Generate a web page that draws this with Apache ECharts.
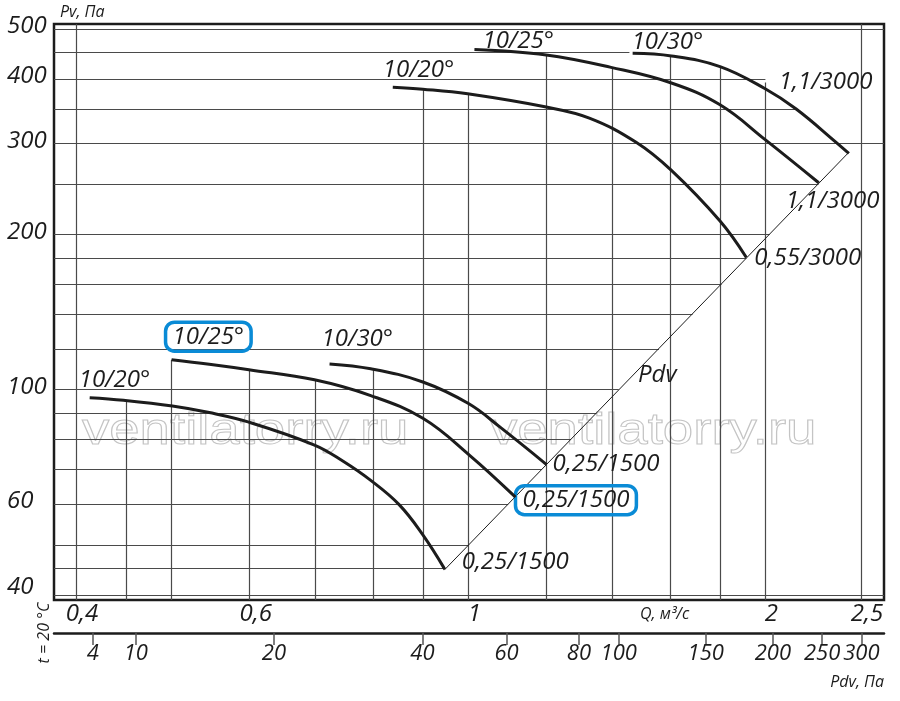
<!DOCTYPE html>
<html><head><meta charset="utf-8">
<script src="https://cdn.jsdelivr.net/npm/echarts@6/dist/echarts.min.js"></script>
<style>html,body{margin:0;padding:0;background:#fff}#c{width:900px;height:701px}</style>
</head><body><div id="c"></div>
<script>
// ---- axis bounds (Q in m3/s, Pv in Pa) ----
const Q_MIN = 0.38, Q_MAX = 2.638, P_MIN = 39.12, P_MAX = 511.3;

// ---- tick labels ----
const qTicks = [0.4, 0.6, 1, 2, 2.5];
const pvTicks = [40, 60, 100, 200, 300, 400, 500];
const pdvTickLabels = ['4', '10', '20', '40', '60', '80', '100', '150', '200', '250', '300'];
const pdvTickQ = [0.416, 0.46, 0.635, 0.898, 1.093, 1.294, 1.42, 1.74, 2.035, 2.283, 2.502];

// ---- curve names ----
const bladeAngles = ['10/20°', '10/25°', '10/30°'];
const lowMotors = ['0,25/1500', '0,25/1500', '0,25/1500'];
const highMotors = ['0,55/3000', '1,1/3000', '1,1/3000'];

// ---- curves [Q, Pv] ----
const low1020 = [[0.413,96.5],[0.447,95.4],[0.501,93.0],[0.546,90.3],[0.599,86.5],[0.698,78.1],[0.745,72.8],[0.796,66.7],[0.851,59.8],[0.899,52.3],[0.946,44.9]];
const low1025 = [[0.500,114.3],[0.546,112.0],[0.599,109.3],[0.698,104.5],[0.796,97.4],[0.899,88.0],[1.002,74.7],[1.116,61.9]];
const low1030 = [[0.723,112.2],[0.796,109.8],[0.899,103.5],[1.0,94.0],[1.075,84.8],[1.20,71.6]];
const high1020 = [[0.838,385.7],[0.899,382.3],[0.998,374.4],[1.199,352.9],[1.326,336],[1.479,301.6],[1.606,266],[1.799,212.2],[1.913,180.4]];
const high1025 = [[1.014,456.3],[1.199,445.3],[1.395,421.3],[1.606,393],[1.799,356.5],[1.999,305.2],[2.265,251.8]];
const high1030 = [[1.467,448.7],[1.606,443.4],[1.799,422.8],[1.999,383],[2.149,349.9],[2.359,301.6],[2.430,287]];
const pdvLine = [[0.945,44.7],[2.430,288.4]];

// ---- grid lines: horizontal [Pv, Q end], vertical [Q, Pv top] ----
const hGrid = [[500,Q_MAX],[450,1.456],[400,2.0],[350,2.149],[300,Q_MAX],[250,2.264],[200,2.02],[180,1.913],[160,1.805],[140,1.687],[120,1.56],[100,1.42],[90,1.348],[80,1.27],[70,1.187],[60,1.097],[50,1.0],[45,0.948],[40,Q_MAX]];
const vGrid = [[0.4,P_MAX],[0.45,95.3],[0.5,114.3],[0.6,109.3],[0.7,104.3],[0.8,109.7],[0.9,382],[1.0,374],[1.2,445],[1.4,421],[1.6,443],[1.8,423],[2.0,394],[2.5,P_MAX]];

const lg = Math.log10;
const FONT = '"Open Sans", "Noto Sans", sans-serif';
const INK = '#1c1c1c';
const nearest = (arr, v) => { let bi = 0, bd = Infinity; arr.forEach((a, i) => { const d = Math.abs(lg(a) - v); if (d < bd) { bd = d; bi = i; } }); return bi; };

const baseLabel = { show: true, position: 'inside', align: 'left', verticalAlign: 'middle', color: INK, fontFamily: FONT, fontStyle: 'italic', fontSize: 24 };
const boxStyle = { borderColor: '#0a8bd6', borderWidth: 3.5, borderRadius: 9, padding: [3, 7, 2, 7] };

function curve(data, sText, eText, sOff, eOff, sBox, eBox) {
  return {
    type: 'line', xAxisIndex: 0, yAxisIndex: 0, data: data, showSymbol: false, symbol: 'none',
    smooth: 0.4, silent: true, z: 5,
    lineStyle: { color: INK, width: 3 },
    markPoint: {
      symbol: 'circle', symbolSize: 0, silent: true, animation: false,
      data: [
        { name: sText, coord: data[0], label: Object.assign({}, baseLabel, { formatter: sText, offset: sOff }, sBox ? boxStyle : {}) },
        { name: eText, coord: data[data.length - 1], label: Object.assign({}, baseLabel, { formatter: eText, offset: eOff }, eBox ? boxStyle : {}) }
      ]
    }
  };
}

const hidden = { axisLine: { show: false }, axisTick: { show: false }, axisLabel: { show: false }, splitLine: { show: false } };
const labelFont = { color: INK, fontFamily: FONT, fontStyle: 'italic', fontSize: 24, hideOverlap: false };
const smallFont = 'italic 16px ' + FONT;

const chart = echarts.init(document.getElementById('c'), null, { renderer: 'canvas', width: 900, height: 701 });
chart.setOption({
  animation: false,
  backgroundColor: '#fff',
  grid: { left: 54, right: 16, top: 24, bottom: 101, show: true, borderColor: INK, borderWidth: 2.5, backgroundColor: 'transparent', containLabel: false, outerBoundsMode: 'none' },
  xAxis: [
    Object.assign({ type: 'log', logBase: 10, min: Q_MIN, max: Q_MAX, position: 'bottom' }, hidden),
    { type: 'value', min: lg(Q_MIN), max: lg(Q_MAX), position: 'bottom',
      axisLine: { show: false, onZero: false }, axisTick: { show: false }, splitLine: { show: false },
      axisLabel: Object.assign({}, labelFont, { customValues: qTicks.map(lg), formatter: v => String(qTicks[nearest(qTicks, v)]).replace('.', ','), align: 'center', padding: [0, 0, 0, 12], margin: 2 }) },
    { type: 'value', min: lg(Q_MIN), max: lg(Q_MAX), position: 'bottom', offset: 33,
      axisLine: { show: true, onZero: false, lineStyle: { color: INK, width: 2.5 } },
      axisTick: { show: true, customValues: pdvTickQ.map(lg), length: 12, lineStyle: { color: '#555', width: 1.5 } },
      splitLine: { show: false },
      axisLabel: Object.assign({}, labelFont, { customValues: pdvTickQ.map(lg), formatter: v => pdvTickLabels[nearest(pdvTickQ, v)], margin: 10, fontSize: 22 }) }
  ],
  yAxis: [
    Object.assign({ type: 'log', logBase: 10, min: P_MIN, max: P_MAX, position: 'left' }, hidden),
    { type: 'value', min: lg(P_MIN), max: lg(P_MAX), position: 'left',
      axisLine: { show: false, onZero: false }, axisTick: { show: false }, splitLine: { show: false },
      axisLabel: Object.assign({}, labelFont, {
        customValues: pvTicks.map(lg),
        formatter: v => { const t = String(Math.round(Math.pow(10, v))); return t === String(pvTicks[0]) ? '{lo|' + t + '}' : t; },
        rich: { lo: { fontFamily: FONT, fontStyle: 'italic', fontSize: 24, color: INK, padding: [0, 0, 10, 0] } },
        align: 'left', margin: 47, padding: [0, 0, 5, 0] }) }
  ],
  series: [
    { type: 'lines', coordinateSystem: 'cartesian2d', xAxisIndex: 0, yAxisIndex: 0, silent: true, z: 1,
      lineStyle: { color: '#4a4a4a', width: 1.2, opacity: 1, curveness: 0 },
      data: hGrid.map(([p, qe]) => ({ coords: [[Q_MIN, p], [qe, p]] })) },
    { type: 'lines', coordinateSystem: 'cartesian2d', xAxisIndex: 0, yAxisIndex: 0, silent: true, z: 1,
      lineStyle: { color: '#4a4a4a', width: 1.2, opacity: 1, curveness: 0 },
      data: vGrid.map(([q, pt]) => ({ coords: [[q, P_MIN], [q, pt]] })) },
    { type: 'line', xAxisIndex: 0, yAxisIndex: 0, data: pdvLine, showSymbol: false, symbol: 'none', silent: true, z: 4,
      lineStyle: { color: INK, width: 1 } },
    curve(low1020, bladeAngles[0], lowMotors[0], [-11, -18], [17, -7], false, false),
    curve(low1025, bladeAngles[1], lowMotors[1], [-6, -23], [0, 3], true, true),
    curve(low1030, bladeAngles[2], lowMotors[2], [-8, -25], [6, 0], false, false),
    curve(high1020, bladeAngles[0], highMotors[0], [-10, -17], [8, 1], false, false),
    curve(high1025, bladeAngles[1], highMotors[1], [8, -8], [-33, 18], false, false),
    curve(high1030, bladeAngles[2], highMotors[2], [-1, -11], [-70, -71], false, false)
  ],
  graphic: { elements: [
    { type: 'text', x: 82, y: 432, scaleX: 1.24, z: 0, silent: true,
      style: { text: 'ventilatorry.ru', font: '44px "Liberation Sans", Arial, sans-serif', fill: 'rgba(0,0,0,0)', stroke: '#c4c4c4', lineWidth: 1, align: 'left', verticalAlign: 'middle' } },
    { type: 'text', x: 490, y: 432, scaleX: 1.24, z: 0, silent: true,
      style: { text: 'ventilatorry.ru', font: '44px "Liberation Sans", Arial, sans-serif', fill: 'rgba(0,0,0,0)', stroke: '#c4c4c4', lineWidth: 1, align: 'left', verticalAlign: 'middle' } },
    { type: 'text', x: 60, y: 12, z: 20, style: { text: 'Pv, Па', font: smallFont, fill: INK, align: 'left', verticalAlign: 'middle' } },
    { type: 'text', x: 640, y: 614, z: 20, style: { text: 'Q, м³/с', font: smallFont, fill: INK, align: 'left', verticalAlign: 'middle' } },
    { type: 'text', x: 884, y: 682, z: 20, style: { text: 'Pdv, Па', font: smallFont, fill: INK, align: 'right', verticalAlign: 'middle' } },
    { type: 'text', x: 44, y: 633, rotation: Math.PI / 2, z: 20, style: { text: 't = 20 °C', font: smallFont, fill: INK, align: 'center', verticalAlign: 'middle' } },
    { type: 'text', x: 638, y: 375, z: 20, style: { text: 'Pdv', font: 'italic 24px ' + FONT, fill: INK, align: 'left', verticalAlign: 'middle' } }
  ] }
});
</script>
</body></html>
